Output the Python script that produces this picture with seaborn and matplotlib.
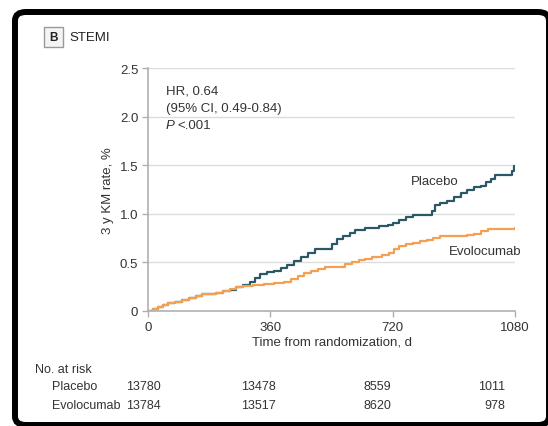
import numpy as np
import pandas as pd
import matplotlib
matplotlib.use("Agg")
import matplotlib.pyplot as plt
from matplotlib.patches import FancyBboxPatch, Rectangle
import seaborn as sns

# ---------------- data ----------------
placebo_days = [0, 15, 30, 45, 60, 80, 100, 120, 140, 160, 180, 200, 220, 240, 260, 280,
                300, 315, 330, 350, 370, 390, 410, 430, 450, 470, 490, 525, 540, 555,
                575, 595, 610, 640, 680, 705, 720, 740, 760, 780, 820, 835, 845, 860,
                880, 900, 920, 940, 960, 980, 995, 1010, 1020, 1068, 1072, 1076, 1080]
placebo_rate = [0, 0.02, 0.04, 0.06, 0.08, 0.09, 0.11, 0.13, 0.15, 0.17, 0.18, 0.19, 0.21,
                0.22, 0.25, 0.27, 0.30, 0.34, 0.38, 0.40, 0.41, 0.44, 0.47, 0.51, 0.56,
                0.60, 0.64, 0.64, 0.69, 0.74, 0.77, 0.80, 0.83, 0.85, 0.87, 0.88, 0.91,
                0.94, 0.97, 0.99, 0.99, 1.03, 1.09, 1.11, 1.13, 1.17, 1.21, 1.24, 1.28,
                1.29, 1.33, 1.36, 1.40, 1.40, 1.44, 1.49, 1.49]

evo_days = [0, 15, 30, 45, 60, 80, 100, 120, 140, 160, 180, 200, 220, 240, 260, 280, 310,
            340, 370, 400, 420, 440, 460, 480, 500, 520, 560, 580, 600, 620, 640, 660,
            690, 710, 725, 740, 760, 780, 800, 820, 840, 860, 890, 940, 960, 980, 1000,
            1080]
evo_rate = [0, 0.02, 0.04, 0.06, 0.08, 0.09, 0.11, 0.13, 0.15, 0.17, 0.18, 0.19, 0.21,
            0.23, 0.25, 0.26, 0.27, 0.28, 0.29, 0.30, 0.33, 0.36, 0.39, 0.41, 0.43, 0.45,
            0.45, 0.48, 0.50, 0.52, 0.54, 0.56, 0.58, 0.60, 0.64, 0.67, 0.69, 0.70, 0.72,
            0.73, 0.75, 0.77, 0.77, 0.78, 0.79, 0.82, 0.84, 0.85]

groups = ["Placebo", "Evolocumab"]
x_ticks = [0, 360, 720, 1080]
y_ticks = [0, 0.5, 1.0, 1.5, 2.0, 2.5]
y_tick_labels = ["0", "0.5", "1.0", "1.5", "2.0", "2.5"]
risk_placebo = ["13780", "13478", "8559", "1011"]
risk_evo = ["13784", "13517", "8620", "978"]
hr_text = ["HR, 0.64", "(95% CI, 0.49-0.84)"]

# ---------------- style ----------------
sns.set_theme(style="white")
plt.rcParams["font.family"] = ["Liberation Sans", "DejaVu Sans"]
FS = 9.5
FS_T = 9
TC = "#333333"

colors = {"Placebo": "#2c5766", "Evolocumab": "#f5a050"}
df = pd.concat([
    pd.DataFrame({"day": placebo_days, "rate": placebo_rate, "group": "Placebo"}),
    pd.DataFrame({"day": evo_days, "rate": evo_rate, "group": "Evolocumab"}),
])

W, H = 548, 427
fig = plt.figure(figsize=(W / 100, H / 100), dpi=100)
fig.patch.set_facecolor("white")

# outer frame
frame = FancyBboxPatch((15 / W, (H - 426) / H), (549 - 15) / W, (426 - 13) / H,
                       boxstyle="round,pad=0,rounding_size=0.02",
                       transform=fig.transFigure, facecolor="none",
                       edgecolor="black", linewidth=4.3, clip_on=False)
fig.patches.append(frame)

ax = fig.add_axes([148 / W, 1 - 312 / H, (515 - 148) / W, (312 - 69) / H])
sns.lineplot(data=df, x="day", y="rate", hue="group", palette=colors,
             estimator=None, drawstyle="steps-post", linewidth=1.6,
             legend=False, ax=ax, sort=False)

ax.set_xlim(0, 1080)
ax.set_ylim(0, 2.5)
ax.set_xticks(x_ticks)
ax.set_xticklabels([str(v) for v in x_ticks])
ax.set_yticks(y_ticks)
ax.set_yticklabels(y_tick_labels)
for y in y_ticks[1:]:
    ax.axhline(y, color="#dcdcdc", linewidth=1.0, zorder=0)
for s in ["top", "right"]:
    ax.spines[s].set_visible(False)
for s in ["left", "bottom"]:
    ax.spines[s].set_color("#b0b0b0")
    ax.spines[s].set_linewidth(1.2)
ax.tick_params(axis="both", which="both", direction="out", length=4, width=1,
               color="#b0b0b0", labelsize=FS, labelcolor=TC, pad=3,
               left=True, bottom=True)
ax.set_xlabel("Time from randomization, d", fontsize=FS, color=TC, labelpad=2)
ax.set_ylabel("3 y KM rate, %", fontsize=FS, color=TC, labelpad=4)
ax.set_facecolor("white")

# annotations
ax.text(845, 1.34, "Placebo", fontsize=FS, color=TC, ha="center", va="center")
ax.text(992, 0.62, "Evolocumab", fontsize=FS, color=TC, ha="center", va="center")

def fx(px):
    return px / W

def fy(py):
    return 1 - py / H

fig.text(fx(166), fy(92), hr_text[0], fontsize=FS, color=TC, va="center")
fig.text(fx(166), fy(109), hr_text[1], fontsize=FS, color=TC, va="center")
fig.text(fx(166), fy(126), "P", fontsize=FS, color=TC, va="center", style="italic")
fig.text(fx(177), fy(126), "<.001", fontsize=FS, color=TC, va="center")

# panel label
fig.patches.append(Rectangle((fx(44), fy(48)), 19 / W, 20 / H, transform=fig.transFigure,
                             facecolor="#f4f4f4", edgecolor="#999999", linewidth=1.0))
fig.text(fx(53.5), fy(38), "B", fontsize=8.5, color="#222222", ha="center", va="center",
         weight="bold")
fig.text(fx(69), fy(38), "STEMI", fontsize=FS, color="#222222", va="center")

# risk table
fig.text(fx(35), fy(370), "No. at risk", fontsize=FS_T, color=TC, va="center")
fig.text(fx(52), fy(387), groups[0], fontsize=FS_T, color=TC, va="center")
fig.text(fx(52), fy(406), groups[1], fontsize=FS_T, color=TC, va="center")
risk_x = [143, 258, 377, 505]
risk_ha = ["center", "center", "center", "right"]
for i in range(4):
    fig.text(fx(risk_x[i]), fy(387), risk_placebo[i], fontsize=FS_T, color=TC,
             ha=risk_ha[i], va="center")
    fig.text(fx(risk_x[i]), fy(406), risk_evo[i], fontsize=FS_T, color=TC,
             ha=risk_ha[i], va="center")

fig.savefig("out.png", dpi=100, facecolor="white")
